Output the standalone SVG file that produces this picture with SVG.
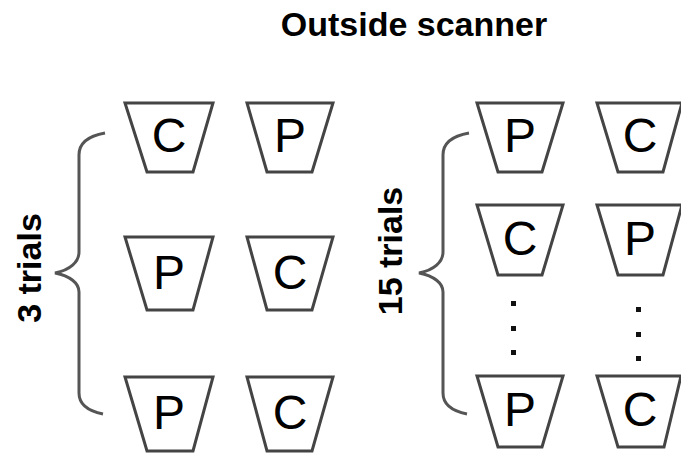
<svg xmlns="http://www.w3.org/2000/svg" width="681" height="459" viewBox="0 0 681 459">
<style>
.cup{fill:#fff;stroke:#444;stroke-width:3;stroke-linejoin:miter}
.lt{font-family:"Liberation Sans",Arial,sans-serif;font-size:48px;fill:#000;text-anchor:middle}
.lbl{font-family:"Liberation Sans",Arial,sans-serif;font-size:34px;font-weight:bold;fill:#000;text-anchor:middle}
.brace{fill:none;stroke:#555;stroke-width:3}
.dot{fill:#111}
</style>
<rect width="681" height="459" fill="#fff"/>
<text class="lbl" x="414" y="36" font-size="33">Outside scanner</text>
<g id="label-3-trials"><text class="lbl" transform="translate(41,268) rotate(-90)">3 trials</text></g>
<g id="label-15-trials"><text class="lbl" transform="translate(402,251) rotate(-90)">15 trials</text></g>
<g id="connectors">
<path class="brace" d="M105,133 C88,136 79,143 79,155 L79,252 C79,262 70,270 55,273 C70,276 79,283 79,292 L79,393 C79,405 88,411 103,414"/>
<path class="brace" d="M469,133 C452,136 443,143 443,155 L443,252 C443,262 434,270 419,273 C434,276 443,283 443,292 L443,393 C443,405 452,411 467,414"/>
</g>
<g id="L1C"><polygon class="cup" points="125,103 213,103 193,172 147,172"/><text class="lt" x="169" y="152">C</text></g>
<g id="L1P"><polygon class="cup" points="247,103 333,103 312,172 267,172"/><text class="lt" x="290" y="152">P</text></g>
<g id="L2P"><polygon class="cup" points="125,237 213,237 193,310 147,310"/><text class="lt" x="169" y="289">P</text></g>
<g id="L2C"><polygon class="cup" points="247,237 333,237 312,310 267,310"/><text class="lt" x="290" y="289">C</text></g>
<g id="L3P"><polygon class="cup" points="125,377 213,377 193,451 147,451"/><text class="lt" x="169" y="429">P</text></g>
<g id="L3C"><polygon class="cup" points="247,377 333,377 312,451 267,451"/><text class="lt" x="290" y="429">C</text></g>
<g id="R1P"><polygon class="cup" points="477,103 563,103 542,172 498,172"/><text class="lt" x="520" y="152">P</text></g>
<g id="R1C"><polygon class="cup" points="597,103 682,103 663,172 618,172"/><text class="lt" x="640" y="152">C</text></g>
<g id="R2C"><polygon class="cup" points="477,205 563,205 542,275 498,275"/><text class="lt" x="520" y="255">C</text></g>
<g id="R2P"><polygon class="cup" points="597,205 682,205 663,275 618,275"/><text class="lt" x="640" y="255">P</text></g>
<g id="R3P"><polygon class="cup" points="477,376 563,376 542,447 498,447"/><text class="lt" x="520" y="426">P</text></g>
<g id="R3C"><polygon class="cup" points="597,376 681,376 664,447 618,447"/><text class="lt" x="640" y="426">C</text></g>
<g id="dots-left"><rect class="dot" x="511" y="301" width="5" height="5"/><rect class="dot" x="511" y="326" width="5" height="5"/><rect class="dot" x="511" y="350" width="5" height="5"/></g>
<g id="dots-right"><rect class="dot" x="636" y="307" width="5" height="5"/><rect class="dot" x="636" y="332" width="5" height="5"/><rect class="dot" x="636" y="356" width="5" height="5"/></g>
</svg>
